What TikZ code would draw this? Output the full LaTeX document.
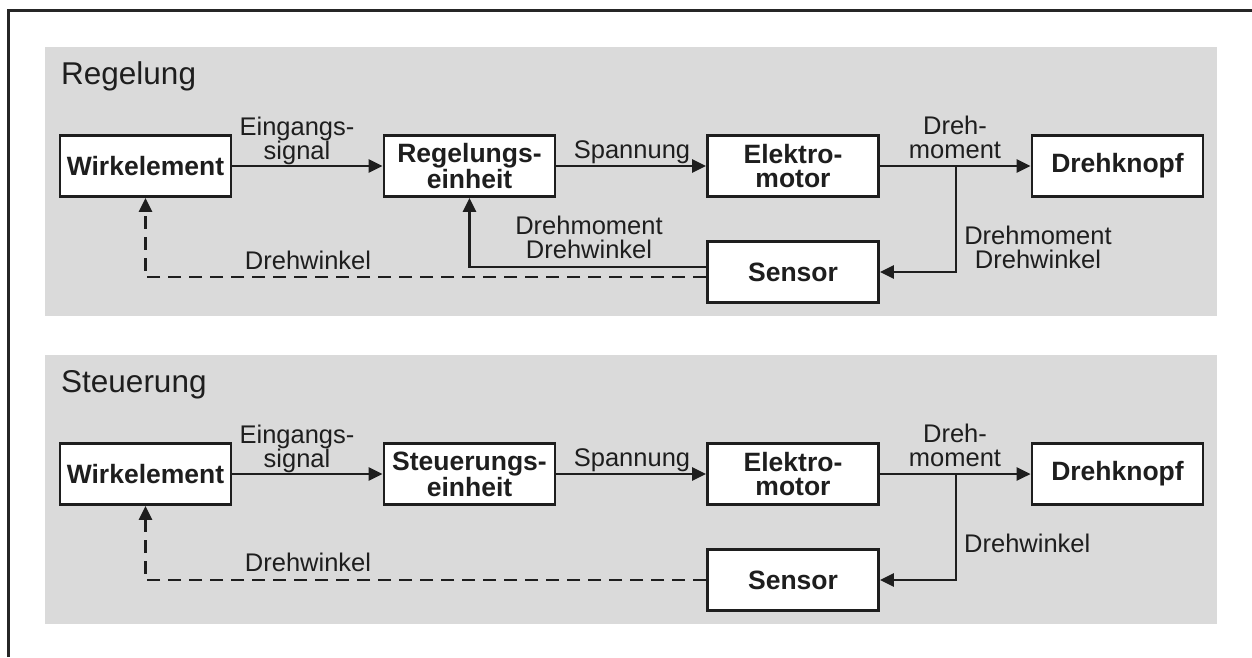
\documentclass[tikz,border=0pt]{standalone}
\usepackage{fontspec}
\setmainfont{Liberation Sans}
\usetikzlibrary{arrows.meta}
\definecolor{panelgray}{HTML}{DADADA}
\definecolor{ink}{HTML}{1E1E1E}
\begin{document}
\begin{tikzpicture}[x=1pt,y=-1pt,
  panel/.style={fill=panelgray},
  box/.style={draw=ink, line width=2.7pt, fill=white, minimum width=171pt, minimum height=61pt,
    inner sep=0pt, align=center, text=ink, font=\fontsize{26.5}{24}\selectfont\bfseries},
  lbl/.style={font=\fontsize{25.5}{24}\selectfont, align=center, inner sep=0pt, text=ink},
  title/.style={font=\fontsize{31.5}{34}\selectfont, inner sep=0pt, text=ink},
  conn/.style={draw=ink, line width=2.7pt, -{Triangle[length=14pt,width=13pt]}},
  dconn/.style={conn, dash pattern=on 13pt off 8pt}]
\useasboundingbox (0,0) rectangle (1252,657);
\fill[white] (0,0) rectangle (1252,657);
\draw[line width=3pt, draw=black!85] (8,657) -- (8,10) -- (1252,10);

% ---------- Regelung ----------
\fill[panel] (45,47) rectangle (1217,316);
\node[title, anchor=base west] (t1) at (61,84) {Regelung};
\node[box] (w1) at (145.5,166) {Wirkelement};
\node[box] (r1) at (469.5,166) {Regelungs-\\einheit};
\node[box] (e1) at (793,166) {Elektro-\\motor};
\node[box] (k1) at (1117.5,166) {Drehknopf};
\node[box] (s1) at (793,272) {Sensor};
\coordinate (b1) at (956,166);
\draw[conn] (w1) -- (r1);
\draw[conn] (r1) -- (e1);
\draw[conn] (e1) -- (k1);
\draw[conn] (b1) |- (s1);
\draw[conn] ([yshift=5pt]s1.west) -| (r1.south);
\draw[dconn] ([yshift=-5pt]s1.west) -| (w1.south);
\node[lbl] (l1a) at (297,140.5) {Eingangs-\\signal};
\node[lbl, anchor=base] (l1b) at (632,158) {Spannung};
\node[lbl] (l1c) at (955,137) {Dreh-\\moment};
\node[lbl] (l1d) at (1038,247) {Drehmoment\\Drehwinkel};
\node[lbl] (l1e) at (589,237) {Drehmoment\\Drehwinkel};
\node[lbl, anchor=base] (l1f) at (308,269) {Drehwinkel};

% ---------- Steuerung ----------
\fill[panel] (45,355) rectangle (1217,624);
\node[title, anchor=base west] (t2) at (61,392) {Steuerung};
\node[box] (w2) at (145.5,474) {Wirkelement};
\node[box] (r2) at (469.5,474) {Steuerungs-\\einheit};
\node[box] (e2) at (793,474) {Elektro-\\motor};
\node[box] (k2) at (1117.5,474) {Drehknopf};
\node[box] (s2) at (793,580) {Sensor};
\coordinate (b2) at (956,474);
\draw[conn] (w2) -- (r2);
\draw[conn] (r2) -- (e2);
\draw[conn] (e2) -- (k2);
\draw[conn] (b2) |- (s2);
\draw[dconn] (s2.west) -| (w2.south);
\node[lbl] (l2a) at (297,448.5) {Eingangs-\\signal};
\node[lbl, anchor=base] (l2b) at (632,466) {Spannung};
\node[lbl] (l2c) at (955,445) {Dreh-\\moment};
\node[lbl, anchor=base west] (l2d) at (964,552) {Drehwinkel};
\node[lbl, anchor=base] (l2f) at (308,571) {Drehwinkel};
\end{tikzpicture}
\end{document}
